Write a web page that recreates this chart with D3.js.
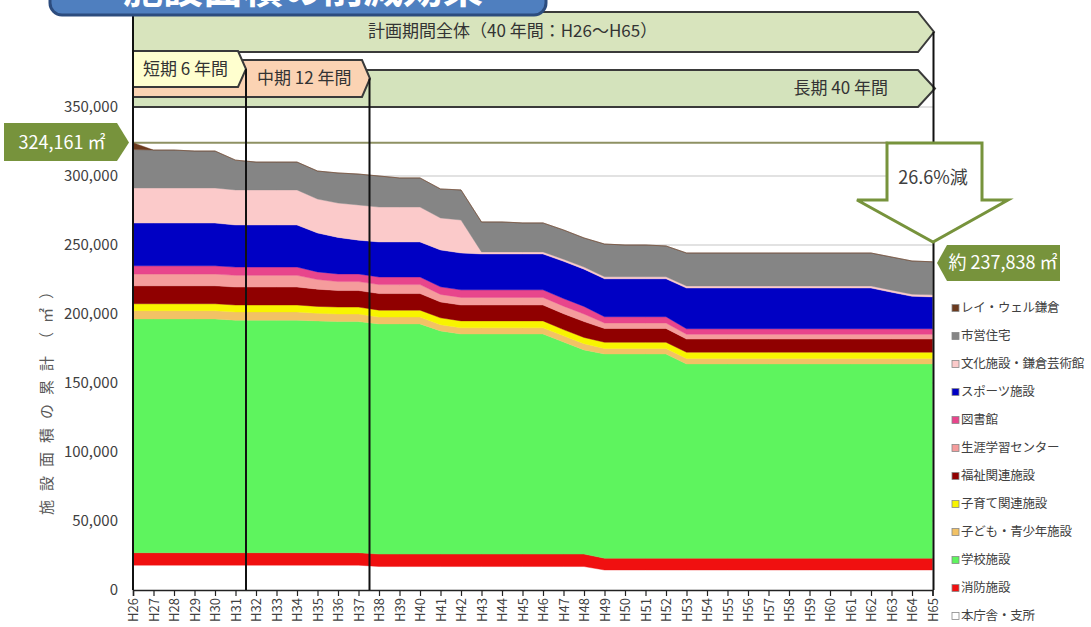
<!DOCTYPE html>
<html><head><meta charset="utf-8">
<script src="https://cdn.jsdelivr.net/npm/d3@7"></script>
<style>
html,body{margin:0;padding:0;background:#fff;}
svg{display:block;font-family:"Noto Sans CJK JP","Noto Sans",sans-serif;}
</style></head><body>
<svg id="chart" width="1091" height="627"></svg>
<script>
// Fiscal years (Heisei) H26 .. H65
const years = ["H26","H27","H28","H29","H30","H31","H32","H33","H34","H35","H36","H37","H38","H39","H40","H41","H42","H43","H44","H45","H46","H47","H48","H49","H50","H51","H52","H53","H54","H55","H56","H57","H58","H59","H60","H61","H62","H63","H64","H65"];

// Floor area per facility group, thousand m²
const honcho    = [18,18,18,18,18,18,18,18,18,18,18,18,17,17,17,17,17,17,17,17,17,17,17,14.5,14.5,14.5,14.5,14.5,14.5,14.5,14.5,14.5,14.5,14.5,14.5,14.5,14.5,14.5,14.5,14.5];
const fire      = [9,9,9,9,9,9,9,9,9,9,9,9,9,9,9,9,9,9,9,9,9,9,9,8.5,8.5,8.5,8.5,8.5,8.5,8.5,8.5,8.5,8.5,8.5,8.5,8.5,8.5,8.5,8.5,8.5];
const school    = [169.4,169.4,169.4,169.4,169.4,168.5,168.5,168.5,168.5,168,167.5,167.5,166.8,166.8,166.8,161.7,159.5,159.5,159.5,159.5,159.5,153.7,148,148,148,148,148,140.8,140.8,140.8,140.8,140.8,140.8,140.8,140.8,140.8,140.8,140.8,140.8,140.8];
const youth     = [6,6,6,6,6,6,6,6,6,5.5,5.5,5.5,5,5,5,4.5,4.5,4.5,4.5,4.5,4.5,4.5,4.5,4,4,4,4,4,4,4,4,4,4,4,4,4,4,4,4,4];
const childcare = [5,5,5,5,5,5,5,5,5,5,5,5,5,5,5,5,5,5,5,5,5,4.5,4.5,4.5,4.5,4.5,4.5,4.5,4.5,4.5,4.5,4.5,4.5,4.5,4.5,4.5,4.5,4.5,4.5,4.5];
const welfare   = [13,13,13,13,13,13,13,13,13,12.5,12,12,12,12,12,11.5,11.5,11.5,11.5,11.5,11.5,11.5,11.5,10,10,10,10,9.5,9.5,9.5,9.5,9.5,9.5,9.5,9.5,9.5,9.5,9.5,9.5,9.5];
const lifelong  = [8.5,8.5,8.5,8.5,8.5,8.5,8.5,8.5,8.5,7,6.5,6.5,6.5,6.5,6.5,5.5,5.5,5.5,5.5,5.5,5.5,5.5,5.5,4,4,4,4,3.5,3.5,3.5,3.5,3.5,3.5,3.5,3.5,3.5,3.5,3.5,3.5,3.5];
const library   = [6,6,6,6,6,6,6,6,6,5.5,5.5,5.5,5.5,5.5,5.5,5.5,5.5,5.5,5.5,5.5,5.5,5.5,5.5,4.5,4.5,4.5,4.5,4,4,4,4,4,4,4,4,4,4,4,4,4];
const sports    = [31,31,31,31,31,30.5,30.5,30.5,30.5,28.2,26.5,24.5,25.4,25.4,25.4,26.7,26.7,26,26,26,26,27,27,27.5,27.5,27.5,27.5,29.5,29.5,29.5,29.5,29.5,29.5,29.5,29.5,29.5,29.5,26.5,23.5,23.1];
const culture   = [25.4,25.4,25.4,25.4,25.4,25.4,25.4,25.4,25.4,24.6,24.9,25.5,25.3,25.3,25.3,23.2,23.9,1.5,1.5,1.5,1.5,1.5,1.5,1.5,1.5,1.5,1.5,1.5,1.5,1.5,1.5,1.5,1.5,1.5,1.5,1.5,1.5,1.5,1.5,1.5];
const housing   = [27.861,27.5,27.5,26.8,26.8,21.6,20.2,20.2,20.2,20.3,21.8,22.4,22.5,21.1,21.1,21,21.8,21.7,21.7,21,21,21.2,21.1,23.7,23,23,22.3,23.9,23.9,23.9,23.9,23.9,23.9,23.9,23.9,23.9,23.9,24,24.1,23.938];
const reiwell   = [5,0,0,0,0,0,0,0,0,0,0,0,0,0,0,0,0,0,0,0,0,0,0,0,0,0,0,0,0,0,0,0,0,0,0,0,0,0,0,0];

// Series names, bottom of stack first
const seriesNames = ["本庁舎・支所","消防施設","学校施設","子ども・青少年施設","子育て関連施設","福祉関連施設","生涯学習センター","図書館","スポーツ施設","文化施設・鎌倉芸術館","市営住宅","レイ・ウェル鎌倉"];
const seriesValues = [honcho, fire, school, youth, childcare, welfare, lifelong, library, sports, culture, housing, reiwell];
const seriesColors = ["#ffffff","#f01010","#5ef45e","#f2c265","#f8f400","#900000","#f59c9c","#e8458c","#0000c4","#fbcaca","#858585","#6b3a1e"];

const yTicks = [0,50,100,150,200,250,300,350];
const startTotal = 324.161, endTotal = 237.838;

const svg = d3.select("#chart");
const x = d3.scalePoint().domain(years).range([133, 932.5]);
const y = d3.scaleLinear().domain([0, 350]).range([590, 107]);
const fmt = d3.format(",");
const olive = "#77933c";

// table for stack
const table = years.map((yr, i) => {
  const row = {year: yr};
  seriesNames.forEach((n, k) => row[n] = seriesValues[k][i]);
  return row;
});
const stacked = d3.stack().keys(seriesNames)(table);

// gridlines
svg.append("g").selectAll("line").data(yTicks.slice(1)).join("line")
  .attr("x1", 133).attr("x2", 933).attr("y1", d => y(d)).attr("y2", d => y(d))
  .attr("stroke", "#c6c6c6").attr("stroke-width", 1.2);

// reference line at start total
svg.append("line").attr("x1", 133).attr("x2", 888)
  .attr("y1", y(startTotal)).attr("y2", y(startTotal))
  .attr("stroke", "#8e9163").attr("stroke-width", 2);

// areas
const area = d3.area().x(d => x(d.data.year)).y0(d => y(d[0])).y1(d => y(d[1]));
svg.append("g").selectAll("path").data(stacked).join("path")
  .attr("d", area)
  .attr("fill", (d, i) => seriesColors[i])
  .attr("stroke", (d, i) => seriesColors[i]).attr("stroke-width", 0.4);

// y tick labels
svg.append("g").selectAll("text").data(yTicks).join("text")
  .attr("x", 118).attr("y", d => y(d)).attr("dy", "0.35em")
  .attr("text-anchor", "end").attr("font-size", 15).attr("fill", "#404040")
  .text(d => fmt(d * 1000));

// y title
svg.append("text").attr("transform", "translate(47,395) rotate(-90)")
  .attr("text-anchor", "middle").attr("dy", "0.35em")
  .attr("font-size", 15).attr("letter-spacing", "9px").attr("fill", "#595959")
  .text("施設面積の累計（㎡）");

// x axis
const xAxis = svg.append("g").attr("transform", "translate(0,590)")
  .call(d3.axisBottom(x).tickSize(6).tickPadding(0));
xAxis.select(".domain").attr("stroke", "#222").attr("stroke-width", 1.5);
xAxis.selectAll(".tick line").attr("stroke", "#222").attr("stroke-width", 1.2);
xAxis.selectAll(".tick text")
  .attr("font-size", 13).attr("fill", "#404040")
  .attr("font-family", "Noto Sans CJK JP")
  .attr("text-anchor", "end")
  .attr("transform", "translate(0,8) rotate(-90)")
  .attr("dy", "0.35em").attr("y", 0).attr("x", 0);

// banners
function banner(x0, top, bot, xb, tip, fill) {
  const mid = (top + bot) / 2;
  svg.append("path")
    .attr("d", `M${x0},${top}H${xb}L${tip},${mid}L${xb},${bot}H${x0}Z`)
    .attr("fill", fill).attr("stroke", "#3a3a3a").attr("stroke-width", 2);
}
banner(133, 12, 52, 918, 934, "#d8e4bd");
banner(133, 70, 107, 918, 935, "#d4e3bc");
banner(133, 60, 97, 362, 370, "#fbd3b3");
banner(133, 51, 87, 238, 246, "#ffffcf");

const bt = (tx, ty, s, anchor) => svg.append("text").attr("x", tx).attr("y", ty)
  .attr("dy", "0.35em").attr("text-anchor", anchor).attr("font-size", 17).attr("fill", "#333").text(s);
bt(368, 31, "計画期間全体（40 年間：H26～H65）", "start");
bt(888, 88, "長期 40 年間", "end");
bt(257, 78, "中期 12 年間", "start");
bt(143, 69, "短期 6 年間", "start");

// period dividers and plot edges
const vline = (vx, y0) => svg.append("line").attr("x1", vx).attr("x2", vx).attr("y1", y0).attr("y2", 590)
  .attr("stroke", "#111").attr("stroke-width", 2);
vline(133, 12);
vline(246, 69);
vline(369.5, 78.5);
vline(933.5, 32);

// title box (cut at top, as in the reference)
svg.append("rect").attr("x", 50).attr("y", -40).attr("width", 496).attr("height", 55).attr("rx", 12)
  .attr("fill", "#4f7fbf").attr("stroke", "#2c4c7e").attr("stroke-width", 3);
svg.append("text").attr("x", 303).attr("y", 3).attr("text-anchor", "middle")
  .attr("font-size", 40).attr("font-weight", "bold").attr("fill", "#fff").text("施設面積の削減効果");

// start label
svg.append("path").attr("d", "M4,123H117L129,142.5L117,161H4Z").attr("fill", olive);
svg.append("text").attr("x", 62).attr("y", 142.5).attr("dy", "0.35em").attr("text-anchor", "middle")
  .attr("font-size", 18).attr("fill", "#fff").text(fmt(Math.round(startTotal * 1000)) + " ㎡");

// end label
svg.append("path").attr("d", "M937,263L947,245H1060V281H947Z").attr("fill", olive);
svg.append("text").attr("x", 1003).attr("y", 263).attr("dy", "0.35em").attr("text-anchor", "middle")
  .attr("font-size", 18).attr("fill", "#fff").text("約 " + fmt(Math.round(endTotal * 1000)) + " ㎡");

// down arrow
svg.append("path").attr("d", "M887,143H982V200H1008L933,242L857,200H887Z")
  .attr("fill", "#fff").attr("stroke", olive).attr("stroke-width", 3);
svg.append("text").attr("x", 933).attr("y", 178).attr("dy", "0.35em").attr("text-anchor", "middle")
  .attr("font-size", 18).attr("fill", "#404040")
  .text((Math.round((1 - endTotal / startTotal) * 1000) / 10).toFixed(1) + "%減");

// legend (top of stack first)
const legendItems = seriesNames.map((n, i) => ({name: n, color: seriesColors[i]})).reverse();
const lg = svg.append("g").selectAll("g").data(legendItems).join("g")
  .attr("transform", (d, i) => `translate(952,${308 + i * 28})`);
lg.append("rect").attr("x", 0).attr("y", -3.5).attr("width", 7).attr("height", 7)
  .attr("fill", d => d.color).attr("stroke", "#888").attr("stroke-width", 0.8);
lg.append("text").attr("x", 9).attr("dy", "0.35em").attr("font-size", 12.5).attr("letter-spacing", "-0.2px").attr("fill", "#404040")
  .text(d => d.name);
</script>
</body></html>
